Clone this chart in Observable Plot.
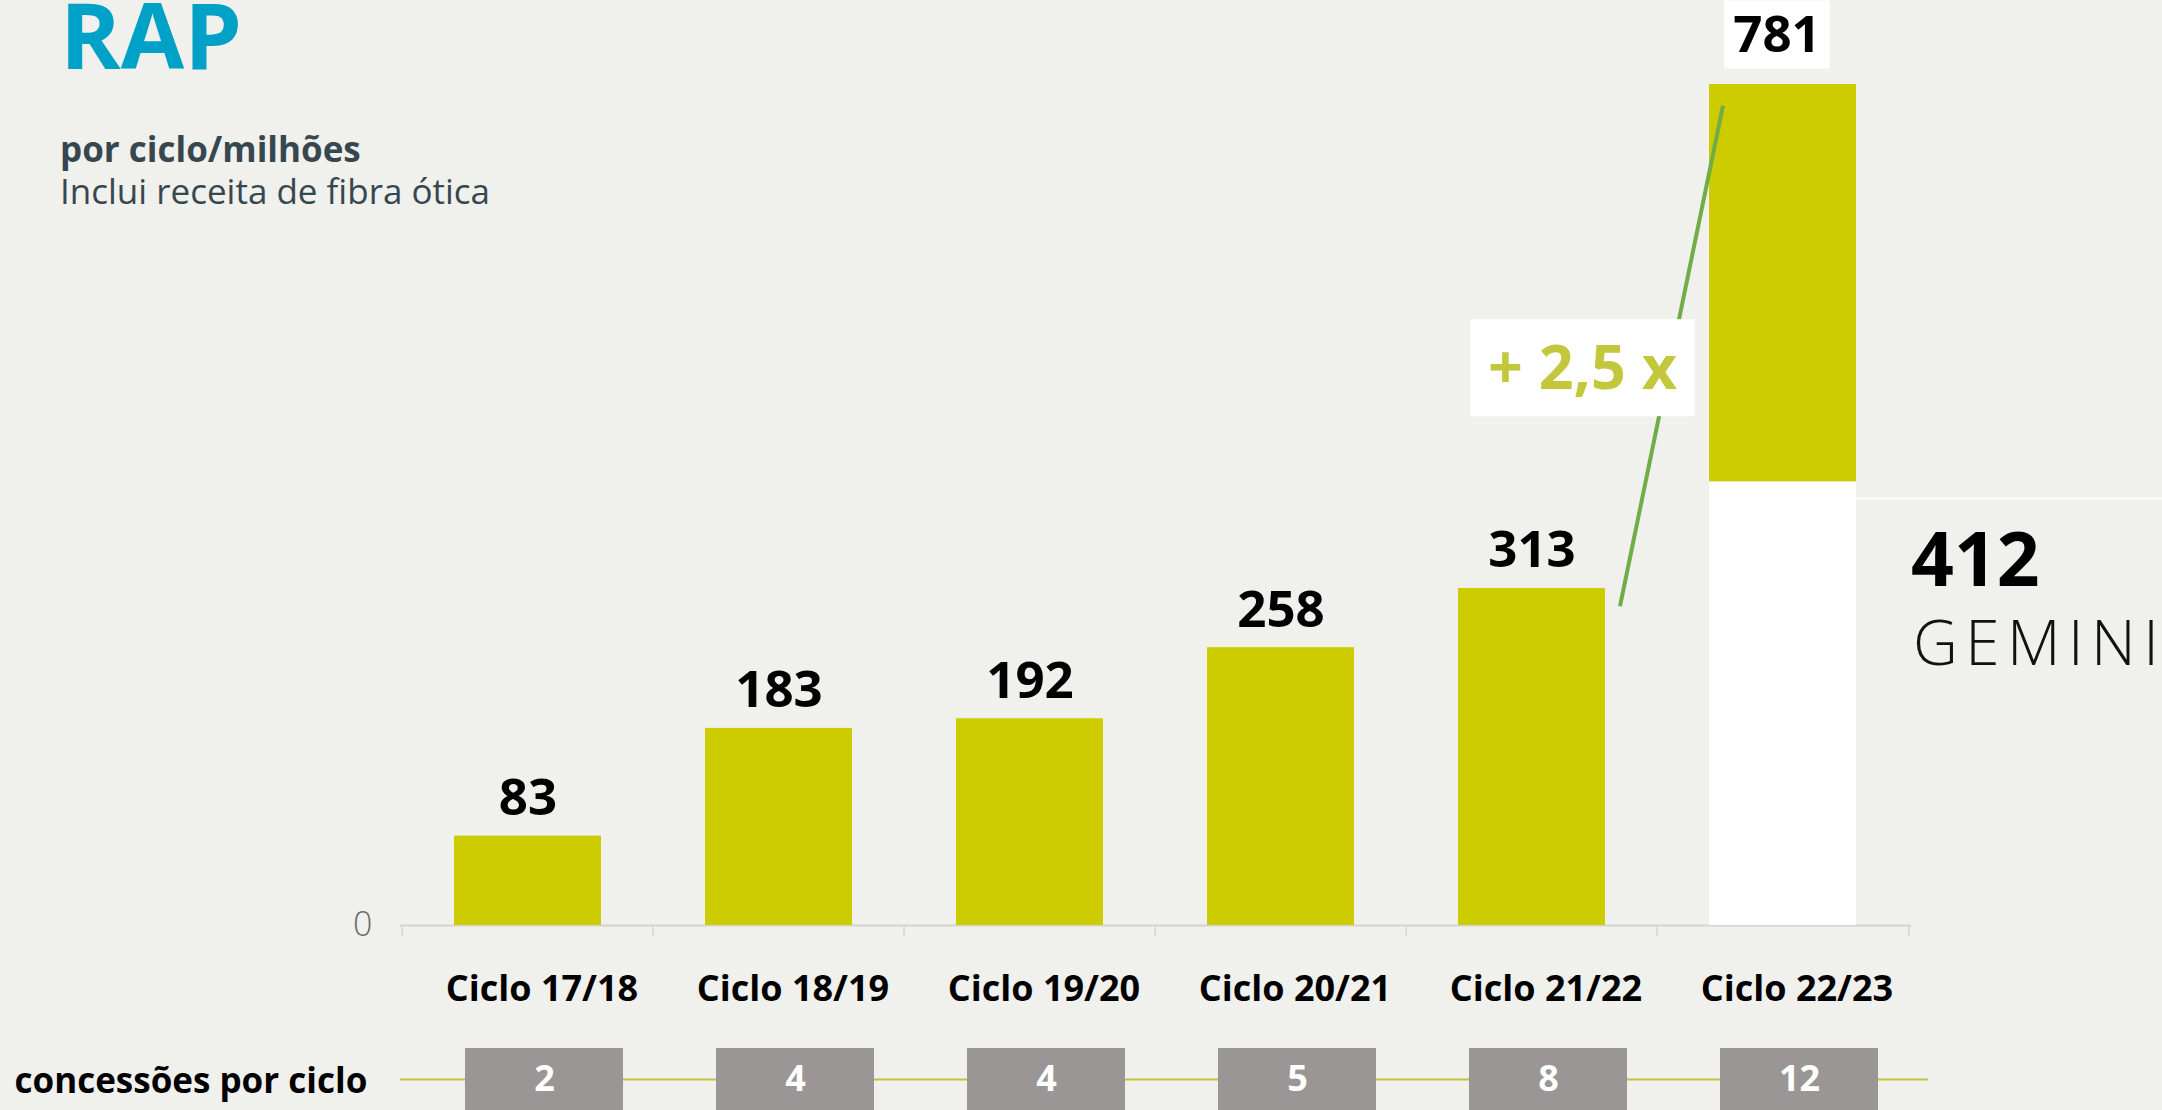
<!DOCTYPE html>
<html>
<head>
<meta charset="utf-8">
<script src="https://cdn.jsdelivr.net/npm/d3@7"></script>
<script src="https://cdn.jsdelivr.net/npm/@observablehq/plot@0.6"></script>
<style>
  html, body { margin: 0; padding: 0; background: #f0f0ec; width: 2162px; height: 1110px; overflow: hidden; font-family: "Open Sans", sans-serif; }
  #wrap { position: relative; width: 2162px; height: 1110px; }
  #wrap svg { display: block; }
  .title { position: absolute; left: 60px; top: 2px; font-size: 92px; line-height: 0.7; font-weight: 700; color: #00a1c6; }
  .sub1 { position: absolute; left: 60px; top: 131px; font-size: 35px; line-height: 1; font-weight: 700; color: #37474f; }
  .sub2 { position: absolute; left: 60px; top: 173px; font-size: 35px; line-height: 1; font-weight: 400; color: #37474f; }
</style>
</head>
<body>
<div id="wrap">
  <div class="title">RAP</div>
  <div class="sub1">por ciclo/milhões</div>
  <div class="sub2">Inclui receita de fibra ótica</div>
  <div id="chart"></div>
  <div id="conc"></div>
</div>
<script>
// ---- data ----
const ciclos = ["Ciclo 17/18", "Ciclo 18/19", "Ciclo 19/20", "Ciclo 20/21", "Ciclo 21/22", "Ciclo 22/23"];
const rap = [83, 183, 192, 258, 313, 781];
const gemini = [0, 0, 0, 0, 0, 412];
const concessoes = [2, 4, 4, 5, 8, 12];
const geminiLabel = "GEMINI";
const growthLabel = "+ 2,5 x";
const concLabel = "concessões por ciclo";
// growth connector and divider (in data units)
const growthFrom = { ciclo: "Ciclo 21/22", value: 296 };
const growthTo = { ciclo: "Ciclo 22/23", value: 761 };
const growthBoxValue = 518;
const dividerValue = 396;

const table = ciclos.map((c, i) => ({ ciclo: c, rap: rap[i], gemini: gemini[i], conc: concessoes[i] }));
const topValue = d3.max(rap);

const W = 2162;
const ML = 400, MR = 251;
const step = (W - ML - MR) / ciclos.length;
const green = "#cccc00";
const axisGrey = "#d4d4d4";

const main = Plot.plot({
  width: W,
  height: 1048,
  marginLeft: ML,
  marginRight: MR,
  marginTop: 84,
  marginBottom: 123,
  style: { background: "transparent", fontFamily: "'Open Sans', sans-serif", overflow: "visible" },
  x: { type: "band", domain: ciclos, paddingInner: 0.414, paddingOuter: 0.207 },
  y: { domain: [0, topValue] },
  marks: [
    Plot.ruleY([0], { stroke: axisGrey, strokeWidth: 2 }),
    Plot.ruleX(ciclos, { x: d => d, dx: -step / 2, y1: 0, y2: -10, stroke: axisGrey, strokeWidth: 1.5 }),
    Plot.ruleX([ciclos[ciclos.length - 1]], { x: d => d, dx: step / 2, y1: 0, y2: -10, stroke: axisGrey, strokeWidth: 1.5 }),
    Plot.barY(table.filter(d => d.gemini > 0), { x: "ciclo", y1: 0, y2: "gemini", fill: "white" }),
    Plot.barY(table, { x: "ciclo", y1: "gemini", y2: "rap", fill: green }),
    Plot.text(table.filter(d => d.rap < topValue), { x: "ciclo", y: "rap", text: d => String(d.rap), lineAnchor: "bottom", dy: -21, fontSize: 51, fontWeight: 700, fill: "black" }),
    Plot.text(table.filter(d => d.rap === topValue), { x: "ciclo", y: "rap", text: d => String(d.rap), lineAnchor: "bottom", dy: -33, dx: -6, fontSize: 51, fontWeight: 700, fill: "black" }),
    Plot.text(table.filter(d => d.gemini > 0), { x: "ciclo", y: "gemini", text: d => String(d.gemini), lineAnchor: "bottom", textAnchor: "start", dx: 128, dy: 104, fontSize: 75, fontWeight: 700, fill: "black" }),
    Plot.text(table.filter(d => d.gemini > 0), { x: "ciclo", y: "gemini", text: () => geminiLabel, lineAnchor: "bottom", textAnchor: "start", dx: 130, dy: 183, fontSize: 62, fontWeight: 300, fill: "#111" }),
    Plot.axisX({ tickSize: 0, tickPadding: 50, dx: 14, fontSize: 36, fontWeight: 700, fill: "black", label: null }),
    Plot.axisY({ ticks: [0], tickSize: 0, tickPadding: 28, fontSize: 34, fontWeight: 300, fill: "#6b6b6b", label: null })
  ]
});
document.getElementById("chart").appendChild(main);

// annotations drawn through the plot's scales
const sx = main.scale("x");
const sy = main.scale("y");
const bw = sx.bandwidth;
const cx = c => sx.apply(c) + bw / 2;
const svg = d3.select(main);
const ann = svg.append("g");
// thin white divider to the right of the last bar
ann.append("line")
  .attr("x1", cx(ciclos[ciclos.length - 1]) + bw / 2).attr("x2", W)
  .attr("y1", sy.apply(dividerValue)).attr("y2", sy.apply(dividerValue))
  .attr("stroke", "white").attr("stroke-width", 2).attr("opacity", 0.9);
ann.append("line")
  .attr("x1", cx(growthFrom.ciclo) + bw / 2 + 15).attr("y1", sy.apply(growthFrom.value))
  .attr("x2", cx(growthTo.ciclo) - bw / 2 + 14).attr("y2", sy.apply(growthTo.value))
  .attr("stroke", "#70ad47").attr("stroke-width", 4);
const bxc = cx(growthFrom.ciclo) + 51, byc = sy.apply(growthBoxValue);
ann.append("rect").attr("x", bxc - 112).attr("y", byc - 48).attr("width", 224).attr("height", 97).attr("fill", "white");
ann.append("text").attr("x", bxc).attr("y", byc).attr("dy", "0.35em").attr("text-anchor", "middle")
  .attr("font-size", 61).attr("font-weight", 700).attr("fill", "#c3c73c").text(growthLabel);

// letter spacing for GEMINI, white box behind top label
svg.selectAll("text").each(function () {
  const t = d3.select(this);
  if (t.text() === geminiLabel) t.attr("letter-spacing", "0.12em");
  if (t.text() === String(topValue)) {
    const b = this.getBBox();
    d3.select(this.parentNode).insert("rect", function () { return this.firstChild; })
      .attr("x", b.x - 9).attr("y", b.y + 4).attr("width", b.width + 18).attr("height", b.height - 2)
      .attr("fill", "white").attr("transform", this.getAttribute("transform"));
  }
});

// concessions row
const conc = Plot.plot({
  width: W,
  height: 62,
  marginLeft: ML,
  marginRight: MR,
  marginTop: 0,
  marginBottom: 0,
  style: { background: "transparent", fontFamily: "'Open Sans', sans-serif", overflow: "visible" },
  x: { type: "band", domain: ciclos, paddingInner: 0.37, paddingOuter: 0.185, axis: null },
  y: { domain: [0, 1], axis: null },
  marks: [
    Plot.ruleY([0.5], { stroke: "#c2c43c", strokeWidth: 2, insetRight: -17 }),
    Plot.cell(table, { x: "ciclo", fill: "#9a9695", dx: 16 }),
    Plot.text(table, { x: "ciclo", text: d => String(d.conc), fill: "white", fontSize: 36, fontWeight: 700, dx: 16, frameAnchor: "middle" }),
    Plot.text([concLabel], { text: d => d, frameAnchor: "left", textAnchor: "start", dx: 14 - ML, dy: 2, fontSize: 35, fontWeight: 700, fill: "black" })
  ]
});
document.getElementById("conc").appendChild(conc);
</script>
</body>
</html>
